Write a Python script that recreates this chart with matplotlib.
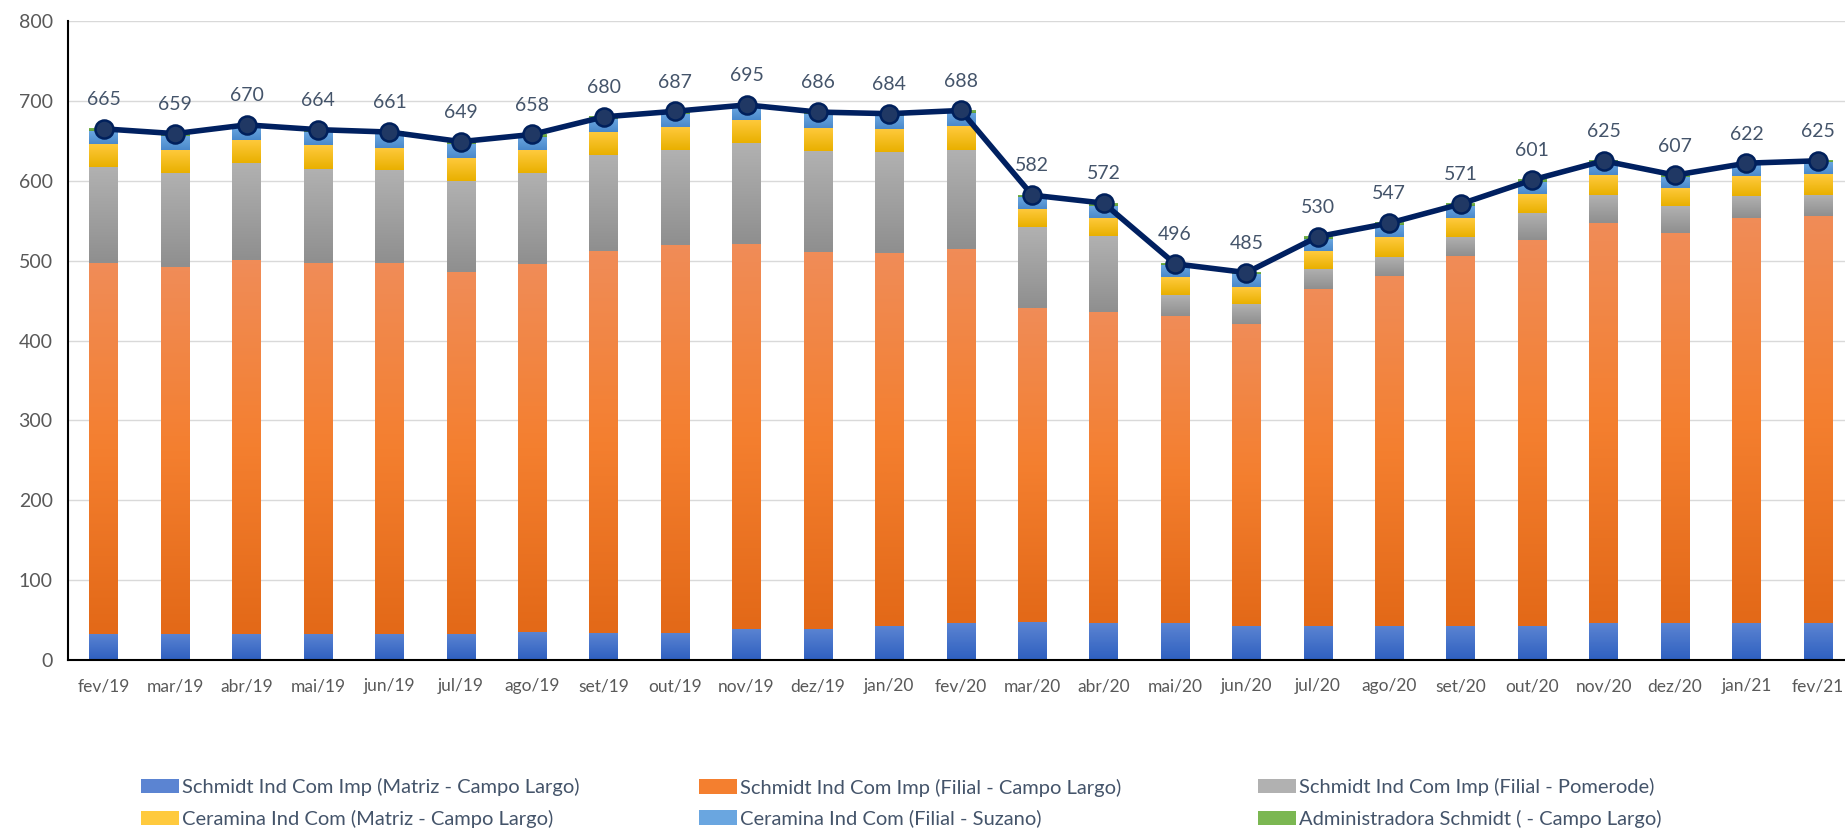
import matplotlib
matplotlib.use('Agg')
import matplotlib.pyplot as plt
import numpy as np
from matplotlib.colors import LinearSegmentedColormap

plt.rcParams['font.family'] = ['Lato', 'DejaVu Sans']

####### Dados #######

meses = ['fev/19', 'mar/19', 'abr/19', 'mai/19', 'jun/19', 'jul/19', 'ago/19', 'set/19',
         'out/19', 'nov/19', 'dez/19', 'jan/20', 'fev/20', 'mar/20', 'abr/20', 'mai/20',
         'jun/20', 'jul/20', 'ago/20', 'set/20', 'out/20', 'nov/20', 'dez/20', 'jan/21', 'fev/21']

schmidt_matriz = [33, 33, 33, 33, 33, 33, 35, 34, 34, 39, 39, 42, 46, 47, 46, 46, 43, 43, 43, 43, 43, 46, 46, 46, 46]
schmidt_filial_cl = [464, 459, 468, 464, 464, 453, 461, 478, 486, 482, 472, 467, 469, 394, 390, 385, 378, 421, 438, 463, 483, 501, 489, 507, 510]
schmidt_pomerode = [120, 118, 121, 118, 116, 114, 114, 120, 118, 126, 126, 127, 124, 101, 95, 26, 25, 26, 24, 24, 34, 35, 33, 28, 26]
ceramina_matriz = [29, 29, 29, 30, 28, 29, 28, 29, 29, 29, 29, 29, 29, 23, 23, 22, 21, 22, 25, 23, 23, 25, 23, 25, 26]
ceramina_suzano = [16, 17, 16, 16, 17, 17, 17, 16, 17, 16, 17, 16, 17, 15, 15, 15, 16, 15, 14, 15, 15, 16, 14, 14, 15]
administradora = [3, 3, 3, 3, 3, 3, 3, 3, 3, 3, 3, 3, 3, 2, 3, 2, 2, 3, 3, 3, 3, 2, 2, 2, 2]
total = [665, 659, 670, 664, 661, 649, 658, 680, 687, 695, 686, 684, 688, 582, 572, 496, 485, 530, 547, 571, 601, 625, 607, 622, 625]

series = [
    ('Schmidt Ind Com Imp (Matriz - Campo Largo)', schmidt_matriz, ['#2F60C0', '#5B84D2']),
    ('Schmidt Ind Com Imp (Filial - Campo Largo)', schmidt_filial_cl, ['#E36918', '#F47F2F', '#F08C57']),
    ('Schmidt Ind Com Imp (Filial - Pomerode)', schmidt_pomerode, ['#8F8F8F', '#B1B1B1']),
    ('Ceramina Ind Com (Matriz - Campo Largo)', ceramina_matriz, ['#E9B000', '#FFCA3E']),
    ('Ceramina Ind Com (Filial - Suzano)', ceramina_suzano, ['#4A89CB', '#6AA6E0']),
    ('Administradora Schmidt ( - Campo Largo)', administradora, ['#5E9E35', '#7BB752']),
]

# Gradiente vertical em cada barra (como no Excel)
def grad_bars(ax, bars, cores):
    cmap = LinearSegmentedColormap.from_list('g', cores)
    grad = np.linspace(0, 1, 64).reshape(-1, 1)
    for b in bars:
        x, y = b.get_x(), b.get_y()
        w, h = b.get_width(), b.get_height()
        ax.imshow(grad, extent=[x, x + w, y, y + h], origin='lower', cmap=cmap,
                  aspect='auto', zorder=2, interpolation='bilinear')

fig = plt.figure(figsize=(18.45, 8.31), dpi=100)
ax = fig.add_axes([68 / 1845, 0.2058, 1 - 68 / 1845, 0.9747 - 0.2058])

x = np.arange(len(meses))
bottom = np.zeros(len(meses))
handles = []
for nome, vals, cores in series:
    bars = ax.bar(x, vals, 0.40, bottom=bottom, color=cores[len(cores) // 2], label=nome, zorder=1)
    grad_bars(ax, bars, cores)
    handles.append(bars)
    bottom = bottom + np.array(vals)

ax.plot(x, total, color='#002060', lw=4, marker='o', markersize=13,
        markerfacecolor='#203864', markeredgecolor='#00205C', markeredgewidth=1.8, zorder=5)
for xi, t in zip(x, total):
    ax.annotate(str(t), (xi, t), xytext=(0, 21), textcoords='offset points',
                ha='center', va='center', fontsize=14, color='#44546A', zorder=6)

ax.set_xlim(-0.5, 24.38)
ax.set_ylim(0, 800)
ax.set_yticks(range(0, 801, 100))
ax.set_xticks(x)
ax.set_xticklabels(meses)
ax.tick_params(axis='both', length=0, labelcolor='#595959')
ax.tick_params(axis='x', pad=13, labelsize=12.5)
ax.tick_params(axis='y', pad=11, labelsize=14)
ax.grid(axis='y', color='#D9D9D9', lw=1, zorder=0)
ax.set_axisbelow(True)
for s in ['top', 'right']:
    ax.spines[s].set_visible(False)
ax.spines['left'].set_color('black')
ax.spines['bottom'].set_color('black')
ax.spines['left'].set_linewidth(1.5)
ax.spines['bottom'].set_linewidth(1.5)

# Legenda em 3 colunas, 2 linhas
for i, xpos in enumerate([141, 699, 1258]):
    leg = fig.legend([handles[i], handles[i + 3]], [series[i][0], series[i + 3][0]],
                     loc='center left', bbox_to_anchor=(xpos / 1845, 0.0337),
                     frameon=False, fontsize=14.5, labelcolor='#44546A',
                     handlelength=1.9, handleheight=0.7, handletextpad=0.15,
                     borderpad=0, borderaxespad=0, labelspacing=0.65)

fig.savefig('out.png', dpi=100)
